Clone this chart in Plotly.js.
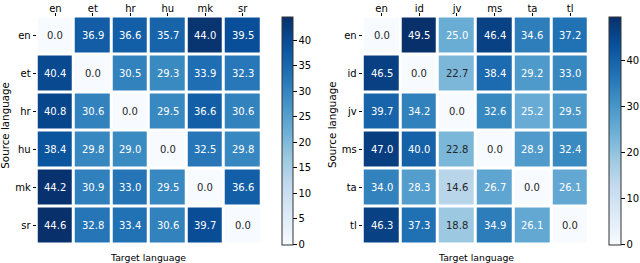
<!DOCTYPE html>
<html><head><meta charset="utf-8">
<script src="https://cdn.plot.ly/plotly-3.0.1.min.js"></script>
<style>html,body{margin:0;padding:0;background:#fff}#c{width:640px;height:263px}</style>
</head><body><div id="c"></div>
<script>
const langsA = ["en","et","hr","hu","mk","sr"];
const valuesA = [
  [0.0, 36.9, 36.6, 35.7, 44.0, 39.5],
  [40.4, 0.0, 30.5, 29.3, 33.9, 32.3],
  [40.8, 30.6, 0.0, 29.5, 36.6, 30.6],
  [38.4, 29.8, 29.0, 0.0, 32.5, 29.8],
  [44.2, 30.9, 33.0, 29.5, 0.0, 36.6],
  [44.6, 32.8, 33.4, 30.6, 39.7, 0.0]
];
const langsB = ["en","id","jv","ms","ta","tl"];
const valuesB = [
  [0.0, 49.5, 25.0, 46.4, 34.6, 37.2],
  [46.5, 0.0, 22.7, 38.4, 29.2, 33.0],
  [39.7, 34.2, 0.0, 32.6, 25.2, 29.5],
  [47.0, 40.0, 22.8, 0.0, 28.9, 32.4],
  [34.0, 28.3, 14.6, 26.7, 0.0, 26.1],
  [46.3, 37.3, 18.8, 34.9, 26.1, 0.0]
];
const ticksA = [0,5,10,15,20,25,30,35,40];
const ticksB = [0,10,20,30,40];
const xTitle = "Target language";
const yTitle = "Source language";

const blues = ["#f7fbff","#deebf7","#c6dbef","#9ecae1","#6baed6","#4292c6","#2171b5","#08519c","#08306b"];
const scale = blues.map((c,i)=>[i/(blues.length-1), c]);
function hex2rgb(h){return [1,3,5].map(i=>parseInt(h.substr(i,2),16));}
function colorAt(t){
  t = Math.max(0,Math.min(1,t));
  const n = blues.length-1; const p = t*n; const i = Math.min(Math.floor(p), n-1); const f = p-i;
  const a = hex2rgb(blues[i]), b = hex2rgb(blues[i+1]);
  return a.map((v,k)=>v+(b[k]-v)*f);
}
function lum(rgb){
  const l = rgb.map(v=>{v/=255;return v<=0.03928?v/12.92:Math.pow((v+0.055)/1.055,2.4);});
  return 0.2126*l[0]+0.7152*l[1]+0.0722*l[2];
}
const font = "DejaVu Sans, sans-serif";
const traces = [];
const annotations = [];
const yBot = 1-244.5/263, yTop = 1-16.5/263;
function addHeat(langs, vals, ticks, xa, ya, cbx, thick){
  const zmax = Math.max(...vals.flat());
  traces.push({
    type:"heatmap", x:langs, y:langs, z:vals, xaxis:xa, yaxis:ya,
    colorscale:scale, zmin:0, zmax:zmax, xgap:3, ygap:3, hoverinfo:"z",
    colorbar:{x:cbx, xanchor:"left", xref:"paper", y:yBot, yanchor:"bottom", len:yTop-yBot, lenmode:"fraction",
      thickness:thick, outlinewidth:1, outlinecolor:"#333", tickvals:ticks, ticks:"outside", ticklen:3.5,
      tickcolor:"#000", tickfont:{family:font,size:10,color:"#000"}, xpad:0, ypad:0}
  });
  const axn = xa === "x" ? "" : xa.slice(1);
  for(let r=0;r<langs.length;r++){
    for(let c=0;c<langs.length;c++){
      const v = vals[r][c];
      const col = lum(colorAt(v/zmax)) > 0.408 ? "#262626" : "#ffffff";
      annotations.push({x:langs[c], y:langs[r], xref:"x"+axn, yref:"y"+axn, text:v.toFixed(1),
        showarrow:false, font:{family:font,size:10,color:col}});
    }
  }
}
addHeat(langsA, valuesA, ticksA, "x", "y", 0.4406, 11);
addHeat(langsB, valuesB, ticksB, "x2", "y2", 0.9516, 12);

annotations.push({text:xTitle, xref:"paper", yref:"paper", x:148/640, y:1-257.5/263, yanchor:"middle", xanchor:"center", showarrow:false, font:{family:font,size:9.3,color:"#000"}});
annotations.push({text:xTitle, xref:"paper", yref:"paper", x:476/640, y:1-257.5/263, yanchor:"middle", xanchor:"center", showarrow:false, font:{family:font,size:9.3,color:"#000"}});
annotations.push({text:yTitle, xref:"paper", yref:"paper", x:4.7/640, y:1-125/263, xanchor:"center", yanchor:"middle", showarrow:false, textangle:-90, font:{family:font,size:10.3,color:"#000"}});
annotations.push({text:yTitle, xref:"paper", yref:"paper", x:332/640, y:1-125/263, xanchor:"center", yanchor:"middle", showarrow:false, textangle:-90, font:{family:font,size:10.3,color:"#000"}});

const axCommon = {showgrid:false, zeroline:false, showline:false, ticks:"outside", ticklen:3, tickcolor:"#000",
  tickfont:{family:font,size:10,color:"#000"}};
const xCommon = Object.assign({}, axCommon, {side:"top", ticklabelstandoff:-3});
const layout = {
  width:640, height:263, margin:{l:0,r:0,t:0,b:0}, paper_bgcolor:"#fff", plot_bgcolor:"#fff",
  showlegend:false,
  xaxis: Object.assign({}, xCommon, {domain:[36.7/640, 261.5/640], anchor:"y"}),
  yaxis: Object.assign({}, axCommon, {domain:[yBot, yTop], autorange:"reversed", anchor:"x"}),
  xaxis2: Object.assign({}, xCommon, {domain:[362.7/640, 589/640], anchor:"y2"}),
  yaxis2: Object.assign({}, axCommon, {domain:[yBot, yTop], autorange:"reversed", anchor:"x2"}),
  annotations: annotations
};
Plotly.newPlot("c", traces, layout, {displayModeBar:false, staticPlot:true});
</script>
</body></html>
